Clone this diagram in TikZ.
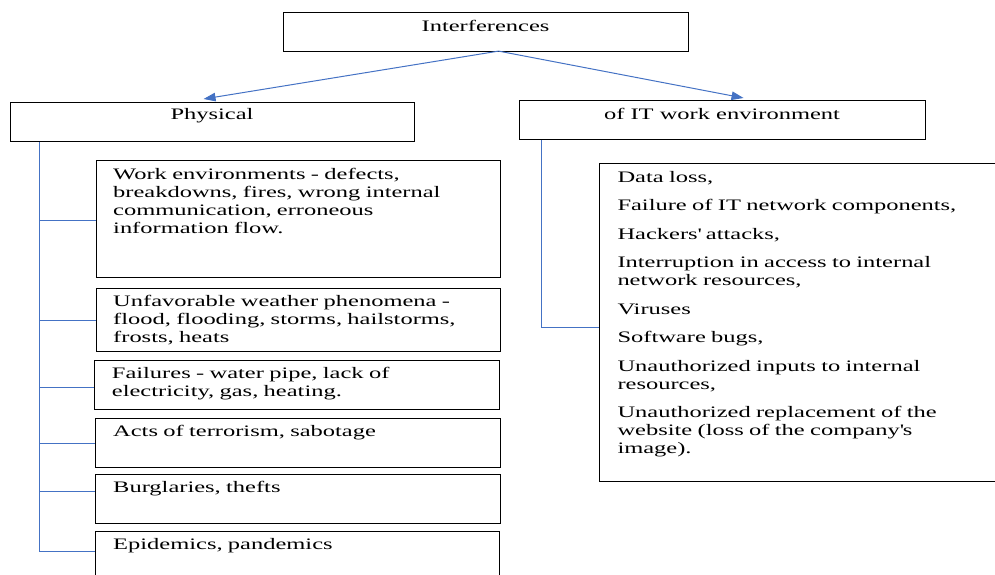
\documentclass[tikz,border=0pt]{standalone}
\usepackage{fontspec}
\setmainfont{Liberation Serif}[FakeStretch=1.53]
\usetikzlibrary{arrows.meta}
\definecolor{connblue}{HTML}{4472C4}
\begin{document}
\begin{tikzpicture}[x=1pt,y=-1pt,
  box/.style={draw=black, line width=1.1pt, inner sep=0pt, anchor=north west},
  txt/.style={anchor=base west, inner sep=0pt, align=left, text width=380pt, font=\fontsize{16}{18}\selectfont},
  ctxt/.style={anchor=base, inner sep=0pt, font=\fontsize{16}{18}\selectfont},
  conn/.style={draw=connblue, line width=1pt},
  arr/.style={conn, -{Triangle[length=12pt,width=8.5pt]}}]
\useasboundingbox (0,0) rectangle (995,575);

% boxes
\node[box, minimum width=405pt, minimum height=39pt] (int) at (283,12) {};
\node[box, minimum width=404pt, minimum height=39pt] (phys) at (10,102) {};
\node[box, minimum width=406pt, minimum height=39pt] (itb) at (519,100) {};
\node[box, minimum width=404pt, minimum height=117pt] (b1) at (96,160) {};
\node[box, minimum width=404pt, minimum height=63pt] (b2) at (96,288) {};
\node[box, minimum width=405pt, minimum height=49pt] (b3) at (94,360) {};
\node[box, minimum width=405pt, minimum height=49pt] (b4) at (95,418) {};
\node[box, minimum width=405pt, minimum height=49pt] (b5) at (95,474) {};
\node[box, minimum width=404pt, minimum height=49pt] (b6) at (95,531) {};
\node[box, minimum width=400pt, minimum height=318pt] (rbox) at (599,163) {};

% texts
\node[ctxt] (tint) at (485.5,32) {Interferences};
\node[ctxt] (tphys) at (212,120) {Physical};
\node[ctxt] (tit) at (722,120) {of IT work environment};
\node[txt] (t1) at (113,179.3) {Work environments - defects,\\breakdowns, fires, wrong internal\\communication, erroneous\\information flow.};
\node[txt] (t2) at (113,306.7) {Unfavorable weather phenomena -\\flood, flooding, storms, hailstorms,\\frosts, heats};
\node[txt] (t3) at (111.7,378.3) {Failures - water pipe, lack of\\electricity, gas, heating.};
\node[txt] (t4) at (113,436.7) {Acts of terrorism, sabotage};
\node[txt] (t5) at (113,492.7) {Burglaries, thefts};
\node[txt] (t6) at (113,549.3) {Epidemics, pandemics};
\node[txt, text width=370pt] (tr) at (617.3,182.3) {Data loss,\\[10.5pt]
Failure of IT network components,\\[10.5pt]
Hackers\textquotesingle{} attacks,\\[10.5pt]
Interruption in access to internal\\network resources,\\[10.5pt]
Viruses\\[10.5pt]
Software bugs,\\[10.5pt]
Unauthorized inputs to internal\\resources,\\[10.5pt]
Unauthorized replacement of the\\website (loss of the company\textquotesingle s\\image).};

% arrows
\coordinate (ast) at ([xshift=12.5pt,yshift=1pt]int.south);
\draw[arr] (ast) -- ([xshift=-9pt,yshift=3pt]phys.north);
\draw[arr] (ast) -- ([xshift=21pt,yshift=2pt]itb.north);

% left tree
\coordinate (ltop) at ([xshift=29pt]phys.south west);
\coordinate (j1) at ([yshift=-1.5pt]b1.west);
\coordinate (j2) at (b2.west);
\coordinate (j3) at ([yshift=-2.5pt]b3.west);
\coordinate (j4) at (b4.west);
\coordinate (j5) at ([yshift=7.5pt]b5.west);
\coordinate (j6) at ([yshift=4.5pt]b6.west);
\draw[conn] (ltop) |- (j6);
\foreach \j in {j1,j2,j3,j4,j5} { \draw[conn] (ltop |- \j) -- (\j); }

% right tree
\coordinate (rtop) at ([xshift=22pt]itb.south west);
\coordinate (rj) at ([yshift=-5pt]rbox.west);
\draw[conn] (rtop) |- (rj);
\end{tikzpicture}
\end{document}
